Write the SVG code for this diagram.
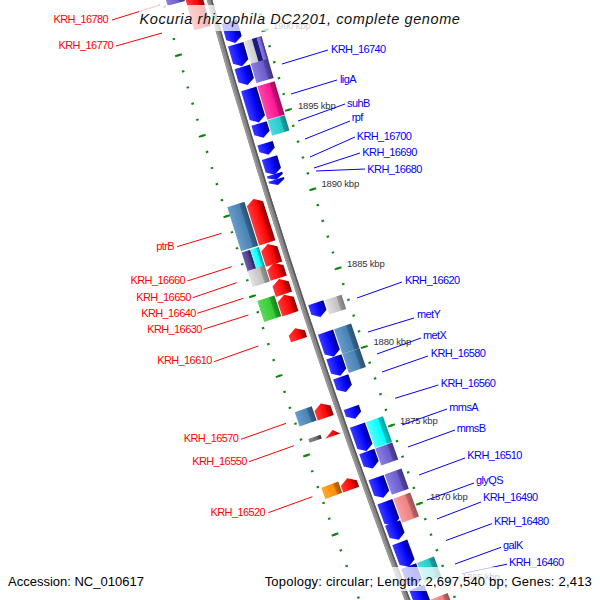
<svg xmlns="http://www.w3.org/2000/svg" width="600" height="600" viewBox="0 0 600 600">
<defs>
<linearGradient id="gBlue" x1="0" y1="0" x2="1" y2="0"><stop offset="0" stop-color="#3a3aff"/><stop offset="0.68" stop-color="#0000ff"/><stop offset="0.72" stop-color="#0000c4"/><stop offset="1" stop-color="#000090"/></linearGradient>
<linearGradient id="gRed" x1="0" y1="0" x2="1" y2="0"><stop offset="0" stop-color="#ff3a3a"/><stop offset="0.68" stop-color="#ff0000"/><stop offset="0.72" stop-color="#c80000"/><stop offset="1" stop-color="#9a0000"/></linearGradient>
<linearGradient id="gSteel" x1="0" y1="0" x2="1" y2="0"><stop offset="0" stop-color="#6a9cc8"/><stop offset="0.68" stop-color="#4682b4"/><stop offset="0.72" stop-color="#36668e"/><stop offset="1" stop-color="#2a5070"/></linearGradient>
<linearGradient id="gSlate" x1="0" y1="0" x2="1" y2="0"><stop offset="0" stop-color="#8b7fe0"/><stop offset="0.68" stop-color="#6a5acd"/><stop offset="0.72" stop-color="#5446a6"/><stop offset="1" stop-color="#403480"/></linearGradient>
<linearGradient id="gPink" x1="0" y1="0" x2="1" y2="0"><stop offset="0" stop-color="#ff45aa"/><stop offset="0.68" stop-color="#ff1493"/><stop offset="0.72" stop-color="#cc1076"/><stop offset="1" stop-color="#a00c5c"/></linearGradient>
<linearGradient id="gCyan" x1="0" y1="0" x2="1" y2="0"><stop offset="0" stop-color="#55ffff"/><stop offset="0.68" stop-color="#00ffff"/><stop offset="0.72" stop-color="#00c8c8"/><stop offset="1" stop-color="#00a0a0"/></linearGradient>
<linearGradient id="gTeal" x1="0" y1="0" x2="1" y2="0"><stop offset="0" stop-color="#4edada"/><stop offset="0.68" stop-color="#22cccc"/><stop offset="0.72" stop-color="#1aa3a3"/><stop offset="1" stop-color="#148080"/></linearGradient>
<linearGradient id="gSilver" x1="0" y1="0" x2="1" y2="0"><stop offset="0" stop-color="#e2e2e2"/><stop offset="0.68" stop-color="#c0c0c0"/><stop offset="0.72" stop-color="#9a9a9a"/><stop offset="1" stop-color="#7a7a7a"/></linearGradient>
<linearGradient id="gGreen" x1="0" y1="0" x2="1" y2="0"><stop offset="0" stop-color="#5bd85b"/><stop offset="0.68" stop-color="#32cd32"/><stop offset="0.72" stop-color="#28a428"/><stop offset="1" stop-color="#1e7d1e"/></linearGradient>
<linearGradient id="gOrange" x1="0" y1="0" x2="1" y2="0"><stop offset="0" stop-color="#ffa733"/><stop offset="0.68" stop-color="#ff8c00"/><stop offset="0.72" stop-color="#cc7000"/><stop offset="1" stop-color="#a05800"/></linearGradient>
<linearGradient id="gSalmon" x1="0" y1="0" x2="1" y2="0"><stop offset="0" stop-color="#f5a0a0"/><stop offset="0.68" stop-color="#f08080"/><stop offset="0.72" stop-color="#c06666"/><stop offset="1" stop-color="#985050"/></linearGradient>
<linearGradient id="gDim" x1="0" y1="0" x2="1" y2="0"><stop offset="0" stop-color="#888888"/><stop offset="0.68" stop-color="#696969"/><stop offset="0.72" stop-color="#505050"/><stop offset="1" stop-color="#404040"/></linearGradient>
<linearGradient id="gDSlate" x1="0" y1="0" x2="1" y2="0"><stop offset="0" stop-color="#6a60a8"/><stop offset="0.68" stop-color="#483d8b"/><stop offset="0.72" stop-color="#3a316f"/><stop offset="1" stop-color="#2c2554"/></linearGradient>
</defs>
<style>
.bl{fill:url(#gBlue)} .rd{fill:url(#gRed)} .sb{fill:url(#gSteel)} .sl{fill:url(#gSlate)}
.pk{fill:url(#gPink)} .cy{fill:url(#gCyan)} .te{fill:url(#gTeal)} .sv{fill:url(#gSilver)}
.gn{fill:url(#gGreen)} .or{fill:url(#gOrange)} .sa{fill:url(#gSalmon)} .dg{fill:url(#gDim)} .ds{fill:url(#gDSlate)}
.tk{fill:none;stroke:#0f870f}
.lr{font-family:"Liberation Sans",Arial,sans-serif;font-size:11px;letter-spacing:-0.6px;fill:#ff0000;text-anchor:end}
.lb{font-family:"Liberation Sans",Arial,sans-serif;font-size:11px;letter-spacing:-0.6px;fill:#0000ff}
.cr{stroke:#ff0000;stroke-width:1;fill:none}
.cb{stroke:#0000ff;stroke-width:1;fill:none}
.kbp{font-family:"Liberation Sans",Arial,sans-serif;font-size:9.5px;letter-spacing:-0.2px;fill:#333333}
.box{fill:#ffffff;fill-opacity:0.75}
.info{font-family:"Liberation Sans",Arial,sans-serif;font-size:13px;fill:#000000}
</style>

<rect width="600" height="600" fill="#ffffff"/>

<g id="backbone">
<circle cx="7044.5" cy="-1922" r="7100" fill="none" stroke="#858585" stroke-width="5.5"/>
<circle cx="7044.5" cy="-1922" r="7101.8" fill="none" stroke="#9c9c9c" stroke-width="1.4"/>
<circle cx="7044.5" cy="-1922" r="7098" fill="none" stroke="#595959" stroke-width="1.5"/>
</g>

<g id="ticks">
<path class="tk" stroke-width="2.5" stroke-dasharray="2 14.598" stroke-dashoffset="1" d="M242.5,-49.6 A7055,7055 0 0 0 480.4,663.7"/>
<path class="tk" stroke-width="7" stroke-dasharray="2 80.99" stroke-dashoffset="1" d="M242.5,-49.6 A7055,7055 0 0 0 480.4,663.7"/>
<path class="tk" stroke-width="2.5" stroke-dasharray="2 14.81" stroke-dashoffset="1" d="M155.7,-25.7 A7145,7145 0 0 0 396.6,696.6"/>
<path class="tk" stroke-width="7" stroke-dasharray="2 82.05" stroke-dashoffset="1" d="M155.7,-25.7 A7145,7145 0 0 0 396.6,696.6"/>
</g>

<g id="features">
<g id="B1" transform="rotate(-16.008 7044.5 -1922) translate(-55.5 -1922)"><polygon class="bl" points="5,-11 21,-11 21,6 13,11 5,6"/></g>
<g id="B2" transform="rotate(-16.2 7044.5 -1922) translate(-55.5 -1922)"><polygon class="bl" points="5,-11.5 21,-11.5 21,6.5 13,11.5 5,6.5"/></g>
<g id="B3" transform="rotate(-16.375 7044.5 -1922) translate(-55.5 -1922)"><polygon class="bl" points="5,-9.5 21,-9.5 21,4.5 13,9.5 5,4.5"/></g>
<g id="B4" transform="rotate(-16.625 7044.5 -1922) translate(-55.5 -1922)"><polygon class="bl" points="5,-17.5 21,-17.5 21,12.5 13,17.5 5,12.5"/></g>
<g id="B5" transform="rotate(-16.836 7044.5 -1922) translate(-55.5 -1922)"><polygon class="bl" points="5,-7.5 21,-7.5 21,2.5 13,7.5 5,2.5"/></g>
<g id="B6" transform="rotate(-16.991 7044.5 -1922) translate(-55.5 -1922)"><polygon class="bl" points="5,-6 21,-6 21,1 13,6 5,1"/></g>
<g id="B7" transform="rotate(-17.137 7044.5 -1922) translate(-55.5 -1922)"><polygon class="bl" points="5,-9 21,-9 21,4 13,9 5,4"/></g>
<g id="B8a" transform="rotate(-17.228 7044.5 -1922) translate(-55.5 -1922)"><polygon class="bl" points="5,-3 21,-3 21,-1 13,3 5,-1"/></g>
<g id="B8b" transform="rotate(-17.272 7044.5 -1922) translate(-55.5 -1922)"><polygon class="bl" points="5,-3 21,-3 21,-1 13,3 5,-1"/></g>
<g id="B9" transform="rotate(-18.357 7044.5 -1922) translate(-55.5 -1922)"><polygon class="bl" points="5,-7.5 21,-7.5 21,2.5 13,7.5 5,2.5"/></g>
<g id="B10" transform="rotate(-18.651 7044.5 -1922) translate(-55.5 -1922)"><polygon class="bl" points="5,-13 21,-13 21,8 13,13 5,8"/></g>
<g id="B11" transform="rotate(-18.838 7044.5 -1922) translate(-55.5 -1922)"><polygon class="bl" points="5,-10 21,-10 21,5 13,10 5,5"/></g>
<g id="B12" transform="rotate(-18.993 7044.5 -1922) translate(-55.5 -1922)"><polygon class="bl" points="5,-8 21,-8 21,3 13,8 5,3"/></g>
<g id="B13" transform="rotate(-19.238 7044.5 -1922) translate(-55.5 -1922)"><polygon class="bl" points="5,-6 21,-6 21,1 13,6 5,1"/></g>
<g id="B14" transform="rotate(-19.452 7044.5 -1922) translate(-55.5 -1922)"><polygon class="bl" points="5,-13.75 21,-13.75 21,8.75 13,13.75 5,8.75"/></g>
<g id="B15" transform="rotate(-19.64 7044.5 -1922) translate(-55.5 -1922)"><polygon class="bl" points="5,-9 21,-9 21,4 13,9 5,4"/></g>
<g id="B16" transform="rotate(-19.878 7044.5 -1922) translate(-55.5 -1922)"><polygon class="bl" points="5,-10.75 21,-10.75 21,5.75 13,10.75 5,5.75"/></g>
<g id="B17" transform="rotate(-20.102 7044.5 -1922) translate(-55.5 -1922)"><polygon class="bl" points="5,-12.75 21,-12.75 21,7.75 13,12.75 5,7.75"/></g>
<g id="B18" transform="rotate(-20.254 7044.5 -1922) translate(-55.5 -1922)"><polygon class="bl" points="5,-9 21,-9 21,4 13,9 5,4"/></g>
<g id="B19" transform="rotate(-20.454 7044.5 -1922) translate(-55.5 -1922)"><polygon class="bl" points="5,-13 21,-13 21,8 13,13 5,8"/></g>
<g id="B20a" transform="rotate(-20.64 7044.5 -1922) translate(-55.5 -1922)"><polygon class="bl" points="5,-10.75 21,-10.75 21,5.75 13,10.75 5,5.75"/></g>
<g id="B20b" transform="rotate(-20.835 7044.5 -1922) translate(-55.5 -1922)"><polygon class="bl" points="5,-12 21,-12 21,7 13,12 5,7"/></g>

<g id="P1" transform="rotate(-16.2 7044.5 -1922) translate(-55.5 -1922)"><rect class="sv" x="22" y="-12" width="18" height="24"/><rect x="30" y="-12" width="5" height="24" fill="#1a1a80"/><rect class="sl" x="35" y="-12" width="5" height="24"/></g>
<g id="P2" transform="rotate(-16.375 7044.5 -1922) translate(-55.5 -1922)"><rect class="sl" x="22" y="-10" width="18" height="20"/></g>
<g id="P3" transform="rotate(-16.625 7044.5 -1922) translate(-55.5 -1922)"><rect class="pk" x="22" y="-17.5" width="18" height="35"/></g>
<g id="P4" transform="rotate(-16.836 7044.5 -1922) translate(-55.5 -1922)"><rect class="te" x="22" y="-8" width="18" height="16"/></g>
<g id="G1" transform="rotate(-18.36 7044.5 -1922) translate(-55.5 -1922)"><rect class="sv" x="22" y="-7.5" width="18" height="15"/></g>
<g id="S1a" transform="rotate(-18.651 7044.5 -1922) translate(-55.5 -1922)"><rect class="sb" x="22" y="-13" width="18" height="26"/></g>
<g id="S1b" transform="rotate(-18.838 7044.5 -1922) translate(-55.5 -1922)"><rect class="sb" x="22" y="-10" width="18" height="20"/></g>
<g id="C1" transform="rotate(-19.452 7044.5 -1922) translate(-55.5 -1922)"><rect class="cy" x="22" y="-13.75" width="18" height="27.5"/></g>
<g id="P5" transform="rotate(-19.64 7044.5 -1922) translate(-55.5 -1922)"><rect class="sl" x="22" y="-9" width="18" height="18"/></g>
<g id="P6" transform="rotate(-19.878 7044.5 -1922) translate(-55.5 -1922)"><rect class="sl" x="22" y="-10.75" width="18" height="21.5"/></g>
<g id="SA1" transform="rotate(-20.102 7044.5 -1922) translate(-55.5 -1922)"><rect class="sa" x="22" y="-12.75" width="18" height="25.5"/></g>
<g id="C2" transform="rotate(-20.64 7044.5 -1922) translate(-55.5 -1922)"><rect class="te" x="22" y="-10.75" width="18" height="21.5"/></g>
<g id="SA2" transform="rotate(-20.97 7044.5 -1922) translate(-55.5 -1922)"><rect class="sa" x="22" y="-12.5" width="18" height="25"/></g>

<g id="R0" transform="rotate(-15.746 7044.5 -1922) translate(-55.5 -1922)"><polygon class="rd" points="-23,-15 -14.5,-20 -6,-15 -6,20 -23,20"/></g>
<g id="R1" transform="rotate(-17.53 7044.5 -1922) translate(-55.5 -1922)"><polygon class="rd" points="-23,-18 -14.5,-23 -6,-18 -6,23 -23,23"/></g>
<g id="R2" transform="rotate(-17.81 7044.5 -1922) translate(-55.5 -1922)"><polygon class="rd" points="-23,-5.5 -14.5,-10.5 -6,-5.5 -6,10.5 -23,10.5"/></g>
<g id="R3" transform="rotate(-17.95 7044.5 -1922) translate(-55.5 -1922)"><polygon class="rd" points="-23,-3 -14.5,-8 -6,-3 -6,8 -23,8"/></g>
<g id="R4" transform="rotate(-18.086 7044.5 -1922) translate(-55.5 -1922)"><polygon class="rd" points="-23,-3 -14.5,-8 -6,-3 -6,8 -23,8"/></g>
<g id="R5" transform="rotate(-18.235 7044.5 -1922) translate(-55.5 -1922)"><polygon class="rd" points="-23,-5 -14.5,-10 -6,-5 -6,10 -23,10"/></g>
<g id="R6" transform="rotate(-18.487 7044.5 -1922) translate(-55.5 -1922)"><polygon class="rd" points="-23,-1 -14.5,-6 -6,-1 -6,6 -23,6"/></g>
<g id="R7" transform="rotate(-19.14 7044.5 -1922) translate(-55.5 -1922)"><polygon class="rd" points="-23,-2.5 -14.5,-7.5 -6,-2.5 -6,7.5 -23,7.5"/></g>
<g id="R8" transform="rotate(-19.335 7044.5 -1922) translate(-55.5 -1922)"><polygon class="rd" points="-22,3 -12,-3 -6,3"/></g>
<g id="R9" transform="rotate(-19.766 7044.5 -1922) translate(-55.5 -1922)"><polygon class="rd" points="-23,-1 -14.5,-6 -6,-1 -6,6 -23,6"/></g>

<g id="TL" transform="rotate(-15.56 7044.5 -1922) translate(-55.5 -1922)"><rect class="sl" x="-42" y="-12.5" width="18" height="25"/></g>
<g id="SB1" transform="rotate(-17.53 7044.5 -1922) translate(-55.5 -1922)"><rect class="sb" x="-42" y="-23" width="18" height="46"/></g>
<g id="PU1" transform="rotate(-17.81 7044.5 -1922) translate(-55.5 -1922)"><rect class="ds" x="-42" y="-10.5" width="9" height="21"/><rect class="cy" x="-33" y="-10.5" width="9" height="21"/></g>
<g id="GR1" transform="rotate(-17.95 7044.5 -1922) translate(-55.5 -1922)"><rect class="sv" x="-42" y="-8.5" width="18" height="17"/></g>
<g id="GN1" transform="rotate(-18.224 7044.5 -1922) translate(-55.5 -1922)"><rect class="gn" x="-42" y="-11" width="18" height="22"/></g>
<g id="SB2" transform="rotate(-19.137 7044.5 -1922) translate(-55.5 -1922)"><rect class="sb" x="-42" y="-7.5" width="18" height="15"/></g>
<g id="DG1" transform="rotate(-19.331 7044.5 -1922) translate(-55.5 -1922)"><rect class="dg" x="-38" y="-2" width="13" height="4"/></g>
<g id="OR1" transform="rotate(-19.766 7044.5 -1922) translate(-55.5 -1922)"><rect class="or" x="-42" y="-6" width="18" height="12"/></g>
</g>

<g id="kbp-labels">
<text class="kbp" x="273" y="28.5">1900 kbp</text>
<text class="kbp" x="298" y="108.5">1895 kbp</text>
<text class="kbp" x="321.5" y="187">1890 kbp</text>
<text class="kbp" x="347" y="266.5">1885 kbp</text>
<text class="kbp" x="373.5" y="344.5">1880 kbp</text>
<text class="kbp" x="400" y="423.5">1875 kbp</text>
<text class="kbp" x="430" y="500">1870 kbp</text>
<text class="kbp" x="462" y="579.5">1865 kbp</text>
</g>

<g id="connectors">
<line class="cr" x1="112" y1="20" x2="160" y2="5"/>
<line class="cr" x1="116" y1="46" x2="162" y2="33"/>
<line class="cr" x1="177" y1="246.7" x2="221.7" y2="233.3"/>
<line class="cr" x1="187.3" y1="281" x2="231.7" y2="266.7"/>
<line class="cr" x1="192.7" y1="297.7" x2="236.7" y2="282.7"/>
<line class="cr" x1="197.3" y1="313.3" x2="243.3" y2="298.3"/>
<line class="cr" x1="203.3" y1="329.3" x2="248.3" y2="315"/>
<line class="cr" x1="214" y1="361.7" x2="258.3" y2="346"/>
<line class="cr" x1="241" y1="439.3" x2="286" y2="423.3"/>
<line class="cr" x1="249" y1="461.7" x2="294" y2="445.7"/>
<line class="cr" x1="268.3" y1="512.7" x2="312.3" y2="496.7"/>
<line class="cb" x1="282" y1="64" x2="328" y2="50"/>
<line class="cb" x1="291" y1="94" x2="337" y2="80"/>
<line class="cb" x1="298" y1="121" x2="345" y2="104"/>
<line class="cb" x1="305" y1="139" x2="350" y2="121"/>
<line class="cb" x1="310" y1="157" x2="355" y2="137"/>
<line class="cb" x1="314" y1="168" x2="360" y2="153"/>
<line class="cb" x1="316" y1="171" x2="365" y2="169"/>
<line class="cb" x1="357" y1="298" x2="402" y2="282"/>
<line class="cb" x1="368" y1="332" x2="414" y2="318"/>
<line class="cb" x1="377" y1="354" x2="421" y2="338"/>
<line class="cb" x1="382" y1="372" x2="428" y2="356"/>
<line class="cb" x1="395" y1="398.3" x2="438.3" y2="385"/>
<line class="cb" x1="402" y1="425" x2="447" y2="409"/>
<line class="cb" x1="408" y1="447" x2="455" y2="430"/>
<line class="cb" x1="419" y1="475" x2="465" y2="458"/>
<line class="cb" x1="427" y1="500" x2="474" y2="483"/>
<line class="cb" x1="437" y1="519" x2="481" y2="502"/>
<line class="cb" x1="446" y1="540.5" x2="492" y2="523.6"/>
<line class="cb" x1="455" y1="564" x2="501" y2="547.3"/>
<line class="cb" x1="462" y1="573.6" x2="507" y2="564.2"/>
</g>

<g id="labels-left">
<text class="lr" x="108" y="23">KRH_16780</text>
<text class="lr" x="113" y="49">KRH_16770</text>
<text class="lr" x="174" y="250">ptrB</text>
<text class="lr" x="185" y="284">KRH_16660</text>
<text class="lr" x="190.7" y="301">KRH_16650</text>
<text class="lr" x="195.7" y="316.5">KRH_16640</text>
<text class="lr" x="201.7" y="332.5">KRH_16630</text>
<text class="lr" x="211.7" y="364">KRH_16610</text>
<text class="lr" x="238.3" y="442">KRH_16570</text>
<text class="lr" x="246.7" y="465">KRH_16550</text>
<text class="lr" x="265" y="516">KRH_16520</text>
</g>
<g id="labels-right">
<text class="lb" x="331" y="52.5">KRH_16740</text>
<text class="lb" x="340" y="83">ligA</text>
<text class="lb" x="347" y="106.5">suhB</text>
<text class="lb" x="351.7" y="121">rpf</text>
<text class="lb" x="356.7" y="140">KRH_16700</text>
<text class="lb" x="362.3" y="156">KRH_16690</text>
<text class="lb" x="367.3" y="172.5">KRH_16680</text>
<text class="lb" x="405" y="284">KRH_16620</text>
<text class="lb" x="417" y="318">metY</text>
<text class="lb" x="423" y="339">metX</text>
<text class="lb" x="430.7" y="357">KRH_16580</text>
<text class="lb" x="440.7" y="386.5">KRH_16560</text>
<text class="lb" x="449.3" y="410.5">mmsA</text>
<text class="lb" x="456.7" y="431.5">mmsB</text>
<text class="lb" x="467.3" y="459">KRH_16510</text>
<text class="lb" x="476" y="484">glyQS</text>
<text class="lb" x="483" y="501">KRH_16490</text>
<text class="lb" x="494" y="524.5">KRH_16480</text>
<text class="lb" x="503" y="549">galK</text>
<text class="lb" x="509" y="565.5">KRH_16460</text>
</g>

<g id="title">
<rect class="box" x="139" y="5" width="323" height="26"/>
<text x="300" y="24" text-anchor="middle" font-family="Liberation Sans, Arial, sans-serif" font-style="italic" font-size="14.5" letter-spacing="0.6" fill="#111111">Kocuria rhizophila DC2201, complete genome</text>
</g>
<g id="footer">
<rect class="box" x="4" y="568" width="144" height="24"/>
<rect class="box" x="257" y="567" width="340" height="24"/>
<text class="info" x="8" y="586">Accession: NC_010617</text>
<text class="info" x="592" y="586" text-anchor="end" letter-spacing="0.2">Topology: circular; Length: 2,697,540 bp; Genes: 2,413</text>
</g>
</svg>
